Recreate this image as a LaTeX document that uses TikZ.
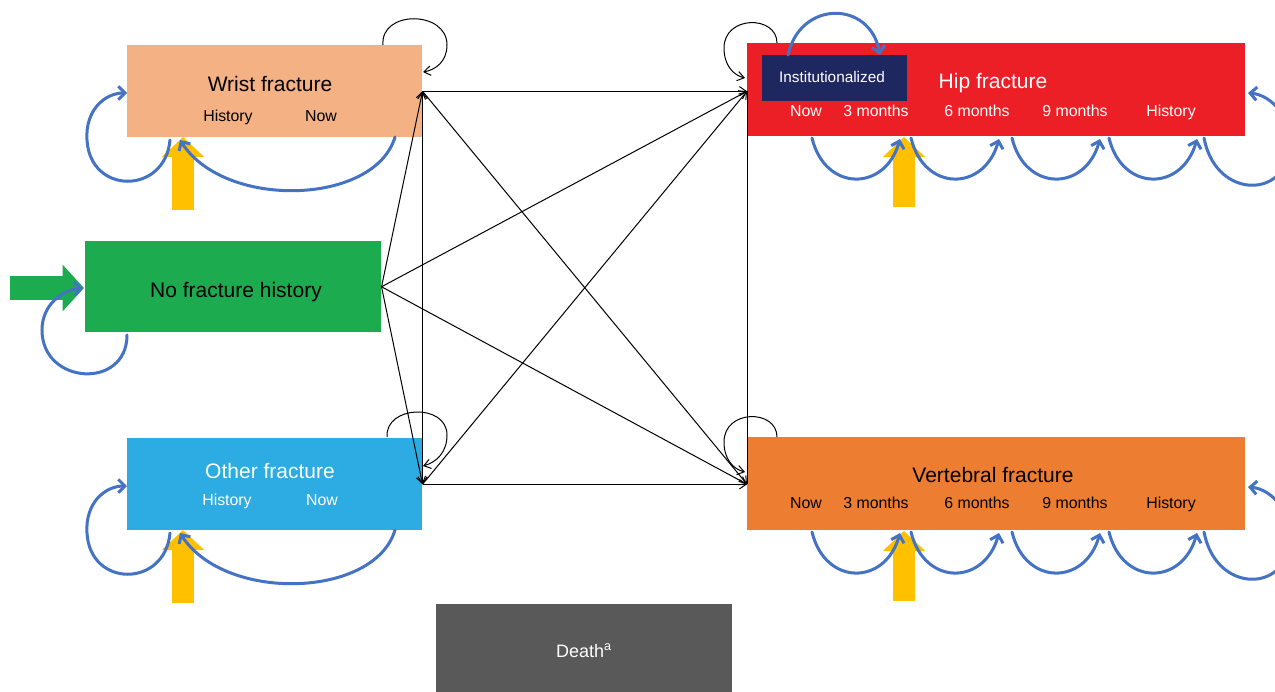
\documentclass[tikz,border=0pt]{standalone}
\usepackage{fontspec}
\setmainfont{Liberation Sans}
\usepackage{xcolor}
\usepackage{tikz}
\usetikzlibrary{arrows.meta}
\definecolor{wristc}{HTML}{F4B183}
\definecolor{nofxc}{HTML}{1CAB4E}
\definecolor{otherc}{HTML}{2DABE3}
\definecolor{hipc}{HTML}{ED1F26}
\definecolor{vertc}{HTML}{ED7D31}
\definecolor{instc}{HTML}{1F2760}
\definecolor{deathc}{HTML}{595959}
\definecolor{arcblue}{HTML}{4472C4}
\definecolor{enteryel}{HTML}{FFC000}
\tikzset{>={Straight Barb[length=5pt,width=7pt]},
    state/.style={draw=none,inner sep=0pt,anchor=north west},
    smallstate/.style={state,minimum width=221.25pt,minimum height=69pt},
    longstate/.style={state,minimum width=373.5pt,minimum height=69.75pt},
    title/.style={anchor=base,inner sep=0pt,font=\fontsize{15.75}{18}\selectfont},
    tag/.style={anchor=base,inner sep=0pt,font=\fontsize{11.9}{14}\selectfont},
    move/.style={draw,line width=0.75pt,->},
    blueloop/.style={draw=arcblue,line width=2.25pt,line cap=round,
        -{Straight Barb[length=5pt,width=10pt]}},
    yelentry/.style={draw=enteryel,line width=17pt,
        -{Triangle[length=15pt,width=31pt]}},
    grentry/.style={draw=nofxc,line width=18pt,
        -{Triangle[length=16pt,width=34pt]}}}

\begin{document}
\begin{tikzpicture}[x=0.75pt,y=-0.75pt]
\useasboundingbox (0,0) rectangle (1275,692);

\node[smallstate,fill=wristc] (wrist) at (127,45) {};
\node[state,fill=nofxc,minimum width=222pt,minimum height=68.25pt] (nofx) at (85,241) {};
\node[smallstate,fill=otherc] (other) at (127,438) {};
\node[longstate,fill=hipc] (hip) at (747,43) {};
\node[longstate,fill=vertc] (vert) at (747,437) {};
\node[state,fill=instc,minimum width=108.75pt,minimum height=34.5pt] (inst) at (762,55) {};
\node[state,fill=deathc,minimum width=222pt,minimum height=75pt] (death) at (436,604) {};

\node[title] (wristt) at (270,92) {Wrist fracture};
\node[tag] (wristh) at (228,122) {History};
\node[tag] (wristn) at (321,122) {Now};
\node[title] (nofxt) at (236,297) {No fracture history};
\node[title,text=white] (othert) at (270,478) {Other fracture};
\node[tag,text=white] (otherh) at (227,505) {History};
\node[tag,text=white] (othern) at (322,505) {Now};
\node[title,text=white] (hipt) at (993,89) {Hip fracture};
\node[anchor=base,inner sep=0pt,text=white,font=\fontsize{11.5}{14}\selectfont] (instt) at (832,83) {Institutionalized};
\node[title] (vertt) at (993,482) {Vertebral fracture};
\node[anchor=base,inner sep=0pt,text=white,font=\fontsize{13.5}{16}\selectfont] (deatht) at (584,657) {Death\textsuperscript{a}};

\foreach \lab/\xx/\nm in {Now/806/n,3 months/876/m3,6 months/977/m6,9 months/1075/m9,History/1171/h}{
    \node[tag,text=white] (hip\nm) at (\xx,117) {\lab};
    \node[tag] (vert\nm) at (\xx,508) {\lab};
}

\coordinate (hipin) at (wrist.east -| hip.west);
\coordinate (vertin) at (other.east -| vert.west);

\draw[move] (nofx.east) -- (wrist.east);
\draw[move] (nofx.east) -- (other.east);
\draw[move] (nofx.east) -- (hipin);
\draw[move] (nofx.east) -- (vertin);
\draw[move,<->] (wrist.east) -- (other.east);
\draw[move] (wrist.east) -- (hipin);
\draw[move] (wrist.east) -- (vertin);
\draw[move] (other.east) -- (hipin);
\draw[move] (other.east) -- (vertin);
\draw[line width=0.75pt] (hipin) -- (vertin);

\draw[move] (383,45) .. controls (380,10) and (447,10) .. (447,45) .. controls (447,62) and (435,70) .. (423,72);
\draw[move] (387,437) .. controls (385,405) and (447,403) .. (447,435) .. controls (447,452) and (437,462) .. (423,466);
\draw[move] (777,43) .. controls (777,15) and (724,15) .. (724,48) .. controls (724,65) and (733,75) .. (745,78);
\draw[move] (777,437) .. controls (777,409) and (724,409) .. (724,442) .. controls (724,459) and (733,469) .. (745,472);

\foreach \dy in {0,393}{
    \begin{scope}[shift={(0,\dy)}]
    \draw[yelentry] (183,210) -- (183,137);
    \draw[blueloop] (170,140) .. controls (165,195) and (90,195) .. (87,140) .. controls (85,110) and (105,93) .. (127,93);
    \draw[blueloop] (395,137) .. controls (375,205) and (225,210) .. (180,140);
    \end{scope}
}
\draw[grentry] (10,288) -- (84,288);
\draw[blueloop] (127,335) .. controls (127,390) and (42,385) .. (42,330) .. controls (42,305) and (62,290) .. (83,288);

\draw[blueloop] (788,55) .. controls (800,0) and (870,0) .. (880,55);
\foreach \dy in {0,394}{
    \begin{scope}[shift={(0,\dy)}]
    \draw[yelentry] (904,207) -- (904,137);
    \foreach \a/\b in {812/900,911/999,1012/1100,1109/1197}
        \draw[blueloop] (\a,138) .. controls (\a+13,192) and (\b-15,192) .. (\b,139);
    \draw[blueloop] (1204,138) .. controls (1215,195) and (1275,198) .. (1287,160) .. controls (1297,120) and (1272,95) .. (1248,93);
    \end{scope}
}
\end{tikzpicture}
\end{document}
